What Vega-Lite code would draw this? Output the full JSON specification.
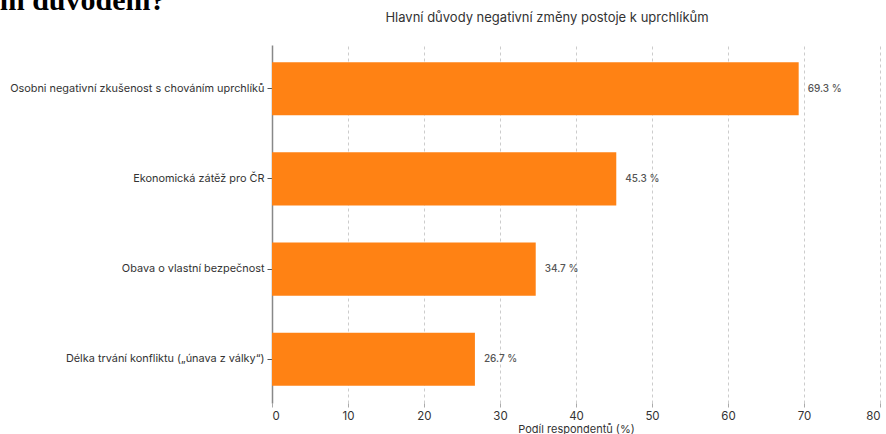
{
  "$schema": "https://vega.github.io/schema/vega-lite/v6.json",
  "width": 608,
  "height": 358,
  "autosize": {"type": "none"},
  "padding": {"left": 272, "top": 45, "right": 6, "bottom": 31},
  "background": "white",
  "title": {
    "text": "Hlavní důvody negativní změny postoje k uprchlíkům",
    "anchor": "middle",
    "frame": "group",
    "font": "Inter",
    "fontSize": 13,
    "fontWeight": "normal",
    "color": "#333333",
    "offset": 0,
    "dx": -29,
    "dy": 40
  },
  "config": {"view": {"stroke": null}, "font": "Inter"},
  "data": {
    "values": [
      {"duvod": "Osobni negativní zkušenost s chováním uprchlíků", "podil": 69.3, "popisek": "69.3 %"},
      {"duvod": "Ekonomická zátěž pro ČR", "podil": 45.3, "popisek": "45.3 %"},
      {"duvod": "Obava o vlastní bezpečnost", "podil": 34.7, "popisek": "34.7 %"},
      {"duvod": "Délka trvání konfliktu („únava z války“)", "podil": 26.7, "popisek": "26.7 %"}
    ]
  },
  "encoding": {
    "y": {
      "field": "duvod",
      "type": "nominal",
      "sort": null,
      "scale": {"paddingInner": 0.41, "paddingOuter": 0.19},
      "axis": {
        "title": "hlavním důvodem?",
        "titleFont": "Liberation Serif",
        "titleFontSize": 30,
        "titleFontWeight": "bold",
        "titleColor": "#000000",
        "titleAngle": 0,
        "titleAlign": "right",
        "titleBaseline": "alphabetic",
        "titleX": -107,
        "titleY": -36,
        "labelFont": "Inter",
        "labelFontSize": 10.9,
        "labelColor": "#333333",
        "labelLimit": 400,
        "labelPadding": 3,
        "domainColor": "#888888",
        "domainWidth": 1.5,
        "tickColor": "#555555",
        "tickSize": 5,
        "grid": false
      }
    },
    "x": {
      "field": "podil",
      "type": "quantitative",
      "scale": {"domain": [0, 80], "nice": false},
      "axis": {
        "title": "Podíl respondentů (%)",
        "titleFont": "Inter",
        "titleFontSize": 11,
        "titleFontWeight": "normal",
        "titleColor": "#333333",
        "titlePadding": 2,
        "values": [0, 10, 20, 30, 40, 50, 60, 70, 80],
        "labelFont": "Inter",
        "labelFontSize": 11.5,
        "labelColor": "#333333",
        "labelPadding": 3,
        "domain": false,
        "grid": true,
        "gridDash": [3, 3],
        "gridColor": "#cccccc",
        "tickColor": "#aaaaaa",
        "tickSize": 4
      }
    }
  },
  "layer": [
    {"mark": {"type": "bar", "color": "#ff8214"}},
    {
      "mark": {"type": "text", "align": "left", "baseline": "middle", "dx": 9, "font": "Inter", "fontSize": 10, "fontWeight": 500, "color": "#555555"},
      "encoding": {"text": {"field": "popisek"}}
    }
  ]
}
